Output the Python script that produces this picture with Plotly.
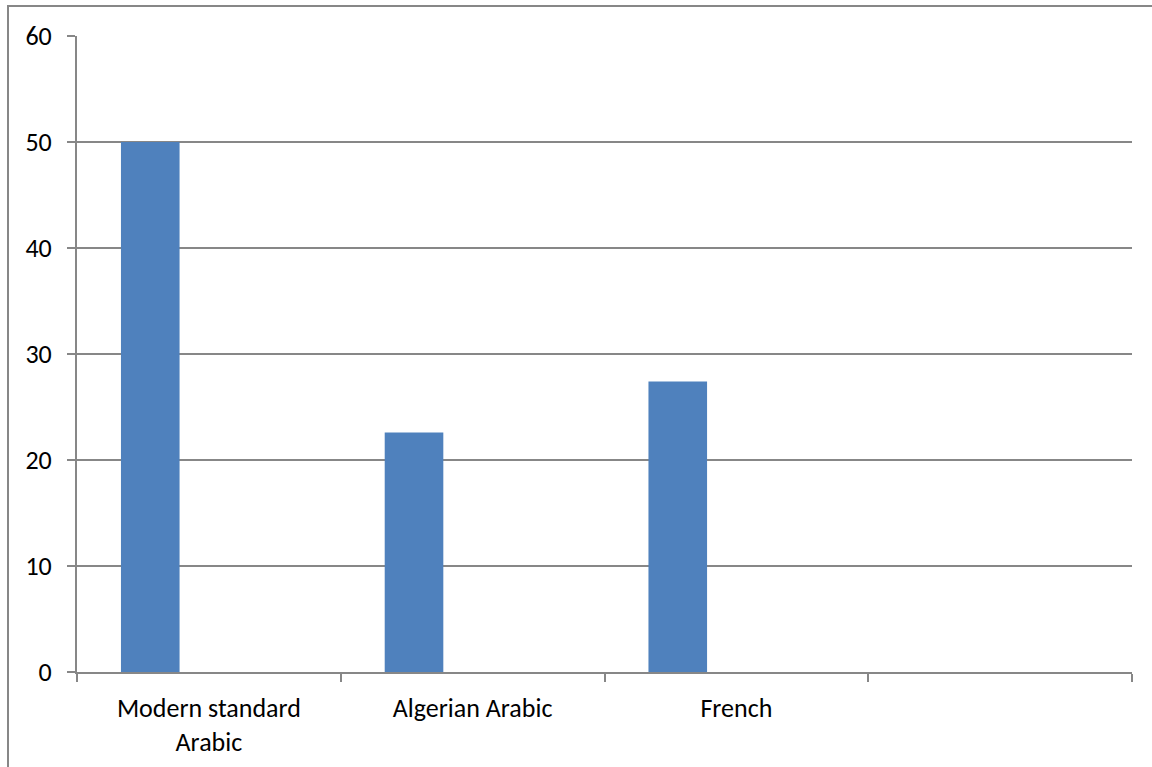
import plotly.graph_objects as go

# Share of respondents by language
categories = ["Modern standard<br>Arabic", "Algerian Arabic", "French", " "]
values = [50, 22.6, 27.4, None]
y_ticks = [0, 10, 20, 30, 40, 50, 60]

bar_color = "#4F81BD"
grid_color = "#878787"
font_family = "Carlito, Calibri, 'Open Sans', sans-serif"

W, H = 1152, 767
margin = dict(l=77, r=20, t=36, b=95)

fig = go.Figure(
    go.Bar(
        x=categories,
        y=values,
        marker=dict(color=bar_color, line=dict(width=0)),
        width=1 / 4.5,
        offset=-0.5 + 0.75 / 4.5,
        hoverinfo="x+y",
    )
)

fig.update_layout(
    width=W,
    height=H,
    margin=margin,
    paper_bgcolor="white",
    plot_bgcolor="white",
    showlegend=False,
    font=dict(family=font_family, size=26, color="black"),
    xaxis=dict(
        type="category",
        range=[-0.5, 3.5],
        tickson="boundaries",
        ticks="outside",
        ticklen=8,
        tickwidth=2,
        tickcolor=grid_color,
        showline=True,
        linecolor=grid_color,
        linewidth=2,
        showgrid=False,
        ticklabelstandoff=12,
        tickfont=dict(size=26),
        automargin=False,
    ),
    yaxis=dict(
        range=[0, 60],
        tickvals=y_ticks,
        ticks="outside",
        ticklen=8,
        tickwidth=2,
        tickcolor=grid_color,
        showline=True,
        linecolor=grid_color,
        linewidth=2,
        showgrid=True,
        gridcolor=grid_color,
        gridwidth=2,
        zeroline=False,
        ticklabelstandoff=10,
        tickfont=dict(size=26),
        automargin=False,
    ),
)

# Chart-area frame
pw = W - margin["l"] - margin["r"]
ph = H - margin["t"] - margin["b"]
fig.add_shape(
    type="rect",
    xref="paper",
    yref="paper",
    x0=(8 - margin["l"]) / pw,
    x1=(W + 40 - margin["l"]) / pw,
    y0=-(H + 40 - margin["t"] - ph) / ph,
    y1=(margin["t"] - 6) / ph + 1,
    line=dict(color=grid_color, width=2),
    fillcolor="rgba(0,0,0,0)",
    layer="below",
)

fig.write_html("out.html")
